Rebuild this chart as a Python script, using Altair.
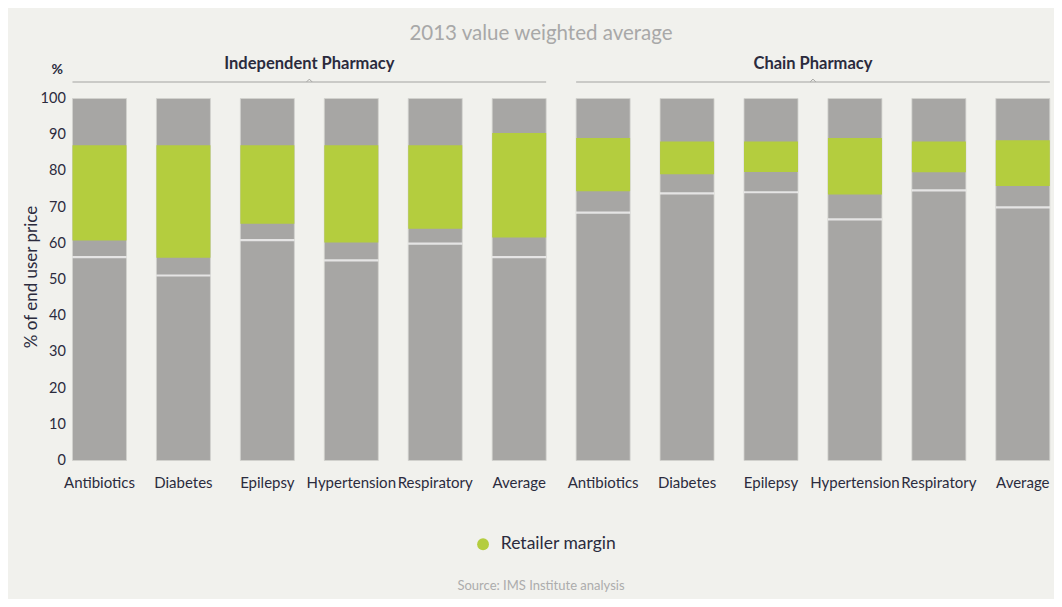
import altair as alt
import pandas as pd

# ---------------- data ----------------
groups = ["Independent Pharmacy", "Chain Pharmacy"]
categories = ["Antibiotics", "Diabetes", "Epilepsy", "Hypertension", "Respiratory", "Average"]

independent_split = [56.2, 51.1, 60.9, 55.3, 59.9, 56.2]
independent_margin_low = [60.8, 56.0, 65.4, 60.2, 64.0, 61.6]
independent_margin_high = [87.1, 87.1, 87.1, 87.1, 87.1, 90.5]

chain_split = [68.5, 73.8, 74.1, 66.6, 74.6, 69.9]
chain_margin_low = [74.4, 79.1, 79.7, 73.5, 79.6, 75.8]
chain_margin_high = [89.1, 88.1, 88.1, 89.1, 88.1, 88.5]

total_value = 100
y_ticks = [0, 10, 20, 30, 40, 50, 60, 70, 80, 90, 100]

# ---------------- build tables ----------------
rows = []
for g, splits, lows, highs in [
    (groups[0], independent_split, independent_margin_low, independent_margin_high),
    (groups[1], chain_split, chain_margin_low, chain_margin_high),
]:
    for c, s, lo, hi in zip(categories, splits, lows, highs):
        rows.append({"key": f"{g}|{c}", "group": g, "category": c, "total": total_value,
                     "split": s, "low": lo, "high": hi, "series": "Retailer margin"})
df = pd.DataFrame(rows)
keys = list(df["key"])

gdf = pd.DataFrame({
    "group": groups,
    "first": [f"{g}|{categories[0]}" for g in groups],
    "last": [f"{g}|{categories[-1]}" for g in groups],
    "mid": [f"{g}|{categories[2]}" for g in groups],
})

GRAY = "#a7a6a4"
GREEN = "#b4cd3e"
BG = "#f1f1ed"
DARK = "#2b2b3d"
LINE = "#a3a3a1"
FONT = "Lato"

W = 985.7
H = 362

xscale = alt.Scale(domain=keys, paddingInner=0.357, paddingOuter=0.05, round=False)
yscale = alt.Scale(domain=[0, 100], nice=False)

x = alt.X("key:N", scale=xscale, axis=alt.Axis(
    title=None, labelAngle=0, ticks=False, domain=False, labelFontSize=15,
    labelFont=FONT, labelColor=DARK, labelPadding=15,
    labelExpr="split(datum.label, '|')[1]"))

yaxis = alt.Axis(values=y_ticks, tickCount=11, grid=False, domain=False, ticks=False,
                 labelOverlap=False, labelFontSize=14.5, labelFont=FONT, labelColor=DARK,
                 labelPadding=3,
                 title="% of end user price", titleFontSize=17, titleFontWeight="normal",
                 titleFont=FONT, titleColor=DARK, titleX=-37, titleY=H / 2 - 3,
                 titleAngle=-90, titleAlign="center", titleBaseline="middle")

base = alt.Chart(df)

full = base.mark_bar(color=GRAY, stroke="#d2d2ce", strokeWidth=0.8).encode(
    x=x,
    y=alt.Y("total:Q", scale=yscale, axis=yaxis),
)

green = base.mark_bar().encode(
    x=x,
    y=alt.Y("low:Q", scale=yscale, axis=yaxis),
    y2="high:Q",
    color=alt.Color("series:N", scale=alt.Scale(domain=["Retailer margin"], range=[GREEN]),
                    legend=alt.Legend(orient="none", legendX=406, legendY=437, title=None,
                                      symbolType="circle", symbolSize=140, symbolStrokeWidth=0,
                                      labelFontSize=17.5, labelFont=FONT, labelColor=DARK,
                                      labelOffset=9, padding=0)),
)

split = base.mark_tick(color="white", thickness=2.2, size=54).encode(
    x=x,
    y=alt.Y("split:Q", scale=yscale, axis=yaxis),
)

gbase = alt.Chart(gdf)
group_line = gbase.mark_rule(color=LINE, strokeWidth=1).encode(
    x=alt.X("first:N", scale=xscale, bandPosition=0),
    x2=alt.X2("last:N", bandPosition=1),
    y=alt.value(-16.5),
)
group_caret = gbase.mark_point(shape="M-1,0.5L0,-0.5L1,0.5", filled=False, color=LINE,
                               size=30, strokeWidth=1, xOffset=15, opacity=1).encode(
    x=alt.X("mid:N", scale=xscale, bandPosition=1),
    y=alt.value(-18),
)
group_title = gbase.mark_text(fontWeight="bold", fontSize=16.5, font=FONT, color=DARK,
                              dx=15, baseline="middle").encode(
    x=alt.X("mid:N", scale=xscale, bandPosition=1),
    y=alt.value(-35),
    text="group:N",
)

def note(txt, xv, yv, **kw):
    return alt.Chart(pd.DataFrame({"t": [txt]})).mark_text(baseline="middle", **kw).encode(
        x=alt.value(xv), y=alt.value(yv), text="t:N")

pct = note("%", -11, -28.5, fontWeight="bold", fontSize=14, font=FONT, color=DARK)
title = note("2013 value weighted average", 472.7, -64.5, fontSize=20.5, font=FONT, color="#a8a8a8")
source = note("Source: IMS Institute analysis", 472.7, 487, fontSize=13, font=FONT, color="#acacac")

chart = alt.layer(full, green, split, group_line, group_caret, group_title, pct, title, source).properties(
    width=W, height=H,
    autosize=alt.AutoSizeParams(type="none"),
    padding={"left": 60.3, "top": 90.5, "right": 0, "bottom": 138.5},
    background=BG,
).configure_view(stroke=None)

chart.save("out.html", embed_options={"renderer": "svg", "actions": False})
